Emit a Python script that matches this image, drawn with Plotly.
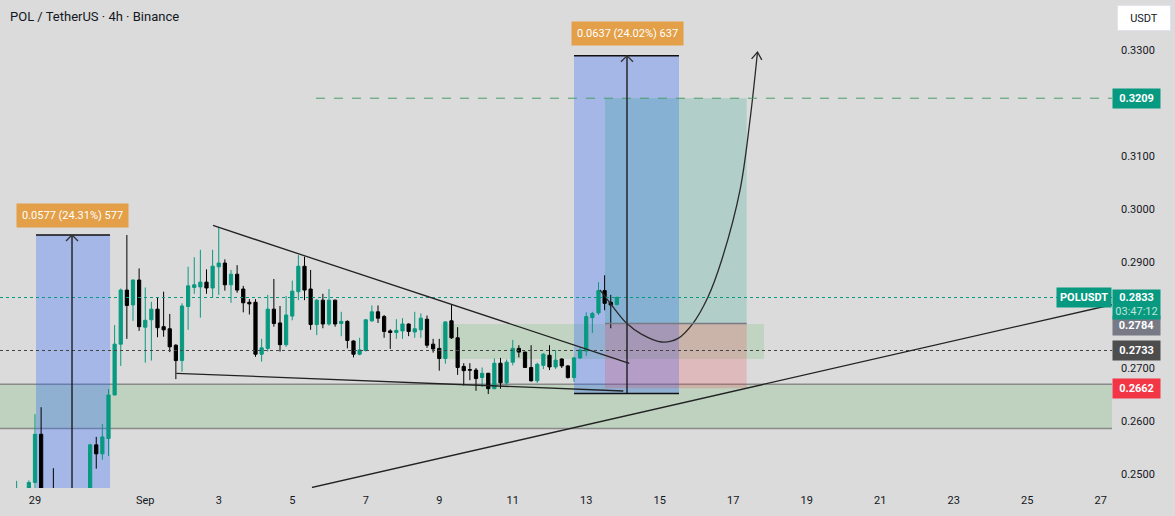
import pandas as pd
import plotly.graph_objects as go

# ---------------- data (4h candles, POL/USDT) ----------------
start_time = "2024-08-28 04:00"
opens = [0.2440, 0.2450, 0.2445, 0.2470, 0.2450, 0.2484, 0.2575, 0.2440, 0.2455, 0.2430,
         0.2410, 0.2420, 0.2440, 0.2455, 0.2445, 0.2555, 0.2538, 0.2567, 0.2649, 0.2745,
         0.2847, 0.2819, 0.2866, 0.2777, 0.2791, 0.2811, 0.2778, 0.2774, 0.2743, 0.2714,
         0.2816, 0.2852, 0.2853, 0.2862, 0.2851, 0.2891, 0.2898, 0.2857, 0.2877, 0.2849,
         0.2824, 0.2824, 0.2726, 0.2737, 0.2811, 0.2785, 0.2744, 0.2798, 0.2844, 0.2892,
         0.2849, 0.2782, 0.2828, 0.2783, 0.2828, 0.2784, 0.2788, 0.2751, 0.2726, 0.2733,
         0.2789, 0.2806, 0.2797, 0.2770, 0.2767, 0.2770, 0.2783, 0.2768, 0.2772, 0.2792,
         0.2745, 0.2737, 0.2718, 0.2789, 0.2757, 0.2703, 0.2697, 0.2696, 0.2682, 0.2690,
         0.2661, 0.2709, 0.2672, 0.2711, 0.2737, 0.2730, 0.2701, 0.2676, 0.2705, 0.2724,
         0.2702, 0.2717, 0.2704, 0.2682, 0.2719, 0.2732, 0.2795, 0.2804, 0.2846, 0.2824,
         0.2820]
highs = [0.2468, 0.2470, 0.2487, 0.2472, 0.2488, 0.2613, 0.2626, 0.2465, 0.2511, 0.2460,
         0.2450, 0.2465, 0.2470, 0.2470, 0.2557, 0.2570, 0.2594, 0.2660, 0.2781, 0.2850,
         0.2951, 0.2867, 0.2888, 0.2852, 0.2825, 0.2833, 0.2844, 0.2802, 0.2745, 0.2822,
         0.2891, 0.2909, 0.2923, 0.2886, 0.2923, 0.2966, 0.2905, 0.2885, 0.2894, 0.2855,
         0.2830, 0.2830, 0.2755, 0.2838, 0.2868, 0.2817, 0.2836, 0.2865, 0.2913, 0.2910,
         0.2885, 0.2830, 0.2840, 0.2849, 0.2829, 0.2806, 0.2790, 0.2752, 0.2757, 0.2792,
         0.2818, 0.2818, 0.2800, 0.2773, 0.2792, 0.2794, 0.2784, 0.2806, 0.2803, 0.2799,
         0.2755, 0.2755, 0.2788, 0.2820, 0.2777, 0.2709, 0.2709, 0.2700, 0.2701, 0.2691,
         0.2718, 0.2719, 0.2716, 0.2753, 0.2743, 0.2731, 0.2743, 0.2710, 0.2728, 0.2743,
         0.2734, 0.2718, 0.2705, 0.2721, 0.2737, 0.2805, 0.2806, 0.2862, 0.2875, 0.2838,
         0.2835]
lows = [0.2425, 0.2430, 0.2435, 0.2440, 0.2445, 0.2470, 0.2420, 0.2400, 0.2410, 0.2390,
        0.2374, 0.2400, 0.2415, 0.2430, 0.2435, 0.2510, 0.2527, 0.2534, 0.2649, 0.2704,
        0.2755, 0.2789, 0.2770, 0.2710, 0.2714, 0.2758, 0.2759, 0.2730, 0.2679, 0.2693,
        0.2772, 0.2840, 0.2795, 0.2840, 0.2833, 0.2838, 0.2846, 0.2823, 0.2842, 0.2805,
        0.2801, 0.2721, 0.2712, 0.2731, 0.2778, 0.2731, 0.2740, 0.2790, 0.2828, 0.2828,
        0.2772, 0.2762, 0.2775, 0.2780, 0.2778, 0.2760, 0.2737, 0.2720, 0.2724, 0.2731,
        0.2787, 0.2785, 0.2757, 0.2736, 0.2755, 0.2755, 0.2760, 0.2757, 0.2757, 0.2738,
        0.2729, 0.2695, 0.2708, 0.2755, 0.2687, 0.2667, 0.2677, 0.2657, 0.2664, 0.2651,
        0.2660, 0.2661, 0.2668, 0.2705, 0.2720, 0.2700, 0.2674, 0.2672, 0.2698, 0.2696,
        0.2698, 0.2700, 0.2680, 0.2674, 0.2717, 0.2723, 0.2766, 0.2800, 0.2809, 0.2775,
        0.2818]
closes = [0.2450, 0.2445, 0.2470, 0.2450, 0.2484, 0.2575, 0.2440, 0.2450, 0.2430, 0.2410,
          0.2420, 0.2440, 0.2455, 0.2445, 0.2555, 0.2538, 0.2570, 0.2649, 0.2745, 0.2847,
          0.2818, 0.2866, 0.2778, 0.2790, 0.2811, 0.2776, 0.2772, 0.2740, 0.2714, 0.2817,
          0.2855, 0.2857, 0.2862, 0.2851, 0.2892, 0.2898, 0.2857, 0.2877, 0.2847, 0.2823,
          0.2821, 0.2726, 0.2738, 0.2811, 0.2784, 0.2744, 0.2800, 0.2845, 0.2892, 0.2847,
          0.2782, 0.2828, 0.2783, 0.2828, 0.2783, 0.2788, 0.2752, 0.2726, 0.2734, 0.2791,
          0.2806, 0.2794, 0.2769, 0.2767, 0.2771, 0.2783, 0.2769, 0.2774, 0.2794, 0.2743,
          0.2736, 0.2718, 0.2787, 0.2757, 0.2701, 0.2695, 0.2696, 0.2680, 0.2690, 0.2661,
          0.2709, 0.2672, 0.2711, 0.2737, 0.2730, 0.2701, 0.2676, 0.2707, 0.2726, 0.2702,
          0.2715, 0.2704, 0.2682, 0.2719, 0.2734, 0.2797, 0.2803, 0.2846, 0.2822, 0.2819,
          0.2833]

x_tick_dates = ["2024-08-29", "2024-09-01", "2024-09-03", "2024-09-05", "2024-09-07",
                "2024-09-09", "2024-09-11", "2024-09-13", "2024-09-15", "2024-09-17",
                "2024-09-19", "2024-09-21", "2024-09-23", "2024-09-25", "2024-09-27"]
x_tick_text = ["29", "Sep", "3", "5", "7", "9", "11", "13", "15", "17", "19", "21", "23", "25", "27"]
# 0.2800 and 0.3200 are hidden behind price labels in the original
y_ticks = [0.25, 0.26, 0.27, 0.29, 0.30, 0.31, 0.33]

# drawings (time, price anchors)
x_range = ["2024-08-28 01:08:34", "2024-09-27 07:21"]
y_range = [0.247358, 0.339434]

measure1 = dict(x0="2024-08-29 00:40", x1="2024-08-31 01:00", xm="2024-08-30 00:10",
                low=0.2374, high=0.2951, text="0.0577 (24.31%) 577", label_y=0.29868)
measure2 = dict(x0="2024-09-12 16:00", x1="2024-09-15 12:34", xm="2024-09-14 02:37",
                low=0.2652, high=0.3289, text="0.0637 (24.02%) 637", label_y=0.33311)
long_x0, long_x1 = "2024-09-13 12:15", "2024-09-17 08:47"
long_entry, long_target, long_stop = 0.2784, 0.3209, 0.2662
target_line_x0 = "2024-09-05 15:30"
zone_small = dict(x0="2024-09-09 01:09", x1="2024-09-17 20:05", y0=0.27170, y1=0.27830)
zone_big = dict(y0=0.25857, y1=0.26693)
box_outline = dict(x_left="2024-08-26 00:00", x_right="2024-09-01 00:57", top=0.26409, bottom=0.2300)
tri_upper = [("2024-09-02 20:15", 0.29689), ("2024-09-14 04:07", 0.27089)]
tri_lower = [("2024-09-01 20:17", 0.26900), ("2024-09-14 00:12", 0.26566)]
rising = [("2024-09-05 12:53", 0.247453), ("2024-09-27 07:21", 0.28194)]
curve_t = ["2024-09-13 08:58", "2024-09-13 17:00", "2024-09-14 02:25", "2024-09-14 12:00",
           "2024-09-15 01:16", "2024-09-15 12:00", "2024-09-15 21:43", "2024-09-16 07:30",
           "2024-09-16 16:28", "2024-09-17 04:25", "2024-09-17 10:57", "2024-09-17 15:50"]
curve_p = [0.28472, 0.28170, 0.27843, 0.27640, 0.27491, 0.27560, 0.27843, 0.28340,
           0.29038, 0.30358, 0.31679, 0.32962]
last_price, hline2 = 0.2833, 0.2733

GREEN = "#089981"
BG = "#dbdbdb"
FONT = "Roboto"

times = pd.date_range(start_time, periods=len(opens), freq="4h")

fig = go.Figure()
fig.add_trace(go.Candlestick(
    x=times, open=opens, high=highs, low=lows, close=closes,
    increasing=dict(line=dict(color=GREEN, width=1), fillcolor=GREEN),
    decreasing=dict(line=dict(color="#000000", width=1), fillcolor="#000000"),
    whiskerwidth=0, hoverinfo="skip", showlegend=False))

fig.add_trace(go.Scatter(x=curve_t, y=curve_p, mode="lines",
                         line=dict(color="#2a2a2a", width=1.3, shape="spline", smoothing=1.0),
                         hoverinfo="skip", showlegend=False))

shapes = []
# zones
shapes.append(dict(type="rect", xref="paper", x0=0, x1=1, yref="y", y0=zone_big["y0"], y1=zone_big["y1"],
                   fillcolor="rgba(76,175,80,0.2)", line=dict(width=0), layer="below"))
for yy in (zone_big["y0"], zone_big["y1"]):
    shapes.append(dict(type="line", xref="paper", x0=0, x1=1, yref="y", y0=yy, y1=yy,
                       line=dict(color="#8a8a8a", width=1.5), layer="below"))
shapes.append(dict(type="rect", xref="x", yref="y", layer="below", line=dict(width=0),
                   fillcolor="rgba(76,175,80,0.18)", **zone_small))
# measure boxes
for m in (measure1, measure2):
    shapes.append(dict(type="rect", xref="x", yref="y", x0=m["x0"], x1=m["x1"], y0=m["low"], y1=m["high"],
                       fillcolor="rgba(41,98,255,0.3)", line=dict(width=0), layer="below"))
# long position
shapes.append(dict(type="rect", xref="x", yref="y", x0=long_x0, x1=long_x1, y0=long_entry, y1=long_target,
                   fillcolor="rgba(8,153,129,0.2)", line=dict(width=0), layer="below"))
shapes.append(dict(type="rect", xref="x", yref="y", x0=long_x0, x1=long_x1, y0=long_stop, y1=long_entry,
                   fillcolor="rgba(242,54,69,0.2)", line=dict(width=0), layer="below"))
shapes.append(dict(type="line", xref="x", yref="y", x0=long_x0, x1=long_x1, y0=long_entry, y1=long_entry,
                   line=dict(color="#787b86", width=1.5)))
shapes.append(dict(type="line", xref="x", yref="y", x0=target_line_x0, x1=x_range[1], y0=long_target, y1=long_target,
                   line=dict(color="#4a9f68", width=1, dash="dash")))
# horizontal dotted lines
shapes.append(dict(type="line", xref="paper", x0=0, x1=1, yref="y", y0=last_price, y1=last_price,
                   line=dict(color=GREEN, width=1, dash="dot")))
shapes.append(dict(type="line", xref="paper", x0=0, x1=1, yref="y", y0=hline2, y1=hline2,
                   line=dict(color="#444444", width=1, dash="dot")))
# measure lines
for m in (measure1, measure2):
    shapes.append(dict(type="line", xref="x", yref="y", x0=m["x0"], x1=m["x1"], y0=m["high"], y1=m["high"],
                       line=dict(color="#111111", width=1.5)))
    shapes.append(dict(type="line", xref="x", yref="y", x0=m["xm"], x1=m["xm"], y0=m["low"], y1=m["high"],
                       line=dict(color="#111111", width=1.3)))
    shapes.append(dict(type="path", xref="x", yref="y", xsizemode="pixel", ysizemode="pixel",
                       xanchor=m["xm"], yanchor=m["high"], path="M -6,-6 L 0,0 L 6,-6",
                       line=dict(color="#333333", width=1.3)))
shapes.append(dict(type="line", xref="x", yref="y", x0=measure2["x0"], x1=measure2["x1"],
                   y0=measure2["low"], y1=measure2["low"], line=dict(color="#111111", width=1.5)))
# outline box (left)
shapes.append(dict(type="path", xref="x", yref="y",
                   path=f"M {box_outline['x_left']},{box_outline['top']} L {box_outline['x_right']},{box_outline['top']} "
                        f"L {box_outline['x_right']},{box_outline['bottom']}",
                   line=dict(color="#111111", width=1.3)))
# trend lines
for seg in (tri_upper, tri_lower, rising):
    shapes.append(dict(type="line", xref="x", yref="y", x0=seg[0][0], y0=seg[0][1], x1=seg[1][0], y1=seg[1][1],
                       line=dict(color="#222222", width=1.3)))
# curve arrow head
shapes.append(dict(type="path", xref="x", yref="y", xsizemode="pixel", ysizemode="pixel",
                   xanchor=curve_t[-1], yanchor=curve_p[-1], path="M -5.9,-6.8 L 0,0 L 4.3,-7.9",
                   line=dict(color="#2a2a2a", width=1.3)))

annotations = []
annotations.append(dict(xref="paper", yref="paper", x=0, y=1, xanchor="left", yanchor="top",
                        xshift=8, yshift=-7, showarrow=False,
                        text="POL / TetherUS · 4h · Binance",
                        font=dict(family=FONT, size=13, color="#131722")))
for m in (measure1, measure2):
    annotations.append(dict(xref="x", yref="y", x=m["xm"], y=m["label_y"], showarrow=False,
                            text=m["text"], bgcolor="#e3a048", borderpad=5,
                            font=dict(family=FONT, size=11, color="#ffffff")))


def price_label(y, text, color, yshift=0, yanchor="middle", height=None, pad=3):
    d = dict(xref="paper", yref="y", x=1, y=y, xanchor="left", yanchor=yanchor, yshift=yshift,
             showarrow=False, text=text, bgcolor=color, width=47 - 2 * pad, borderpad=pad, align="center",
             font=dict(family=FONT, size=11, color="#ffffff"))
    if height:
        d["height"] = height
    return d


annotations.append(price_label(long_target, "<b>0.3209</b>", GREEN))
annotations.append(price_label(long_entry, "<b>0.2784</b>", "#787b86", yshift=-2))
annotations.append(price_label(last_price, "<b>0.2833</b><br><span style='color:#bfe5da'>03:47:12</span>",
                               GREEN, yshift=8.5, yanchor="top", height=27, pad=1))
annotations.append(price_label(hline2, "<b>0.2733</b>", "#4d4d4d"))
annotations.append(price_label(long_stop, "<b>0.2662</b>", "#f23645"))
annotations.append(dict(xref="paper", yref="y", x=1, y=last_price, xanchor="right", yanchor="middle",
                        showarrow=False, text="<b>POLUSDT</b>", bgcolor=GREEN, borderpad=3,
                        font=dict(family=FONT, size=11, color="#ffffff")))
annotations.append(dict(xref="paper", yref="paper", x=1.0045, y=0.9897, xanchor="left", yanchor="top",
                        showarrow=False, text="USDT", bgcolor="#ffffff", bordercolor="#e0e3eb",
                        borderwidth=1, borderpad=5, width=42, height=14,
                        font=dict(family=FONT, size=11, color="#131722")))

fig.update_layout(
    width=1175, height=516,
    margin=dict(l=0, r=63, t=0, b=28),
    paper_bgcolor=BG, plot_bgcolor=BG,
    shapes=shapes, annotations=annotations,
    showlegend=False,
    xaxis=dict(type="date", range=x_range, rangeslider=dict(visible=False),
               showgrid=False, zeroline=False, showline=False,
               tickmode="array", tickvals=x_tick_dates, ticktext=x_tick_text,
               tickfont=dict(family=FONT, size=11, color="#131722"), ticks="", ticklabelstandoff=4),
    yaxis=dict(range=y_range, side="right", showgrid=False, zeroline=False, showline=False,
               tickmode="array", tickvals=y_ticks, ticktext=[f"{v:.4f}" for v in y_ticks],
               tickfont=dict(family=FONT, size=11, color="#131722"), ticks="", ticklabelstandoff=8),
    boxgap=0.25,
)

fig.write_html("out.html")
